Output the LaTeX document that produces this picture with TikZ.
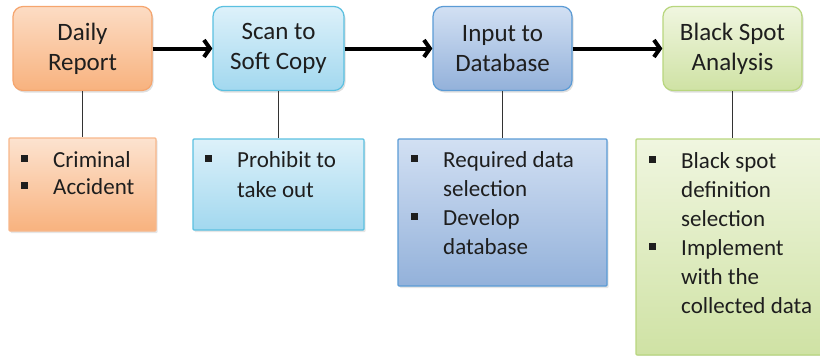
\documentclass[tikz,border=0pt]{standalone}
\usepackage{fontspec}
\setmainfont{Carlito}
\usetikzlibrary{arrows.meta,shadows}
\definecolor{txt}{HTML}{1E1E1E}
\definecolor{orT}{HTML}{FCDCC4}\definecolor{orB}{HTML}{F8B27E}\definecolor{orD}{HTML}{F5A56E}
\definecolor{cyT}{HTML}{DDF1FA}\definecolor{cyB}{HTML}{A2D8EF}\definecolor{cyD}{HTML}{5BC0E0}
\definecolor{blT}{HTML}{D2E0F3}\definecolor{blB}{HTML}{93B1DA}\definecolor{blD}{HTML}{5B9BD5}
\definecolor{grT}{HTML}{F0F6E0}\definecolor{grB}{HTML}{CFE2A4}\definecolor{grD}{HTML}{B8D67E}
\newcommand\blt{\llap{\raisebox{5pt}{\rule{7pt}{7pt}}\hspace{25pt}}}
\begin{document}
\begin{tikzpicture}[x=1pt,y=-1pt,
  topbox/.style={rounded corners=10pt, line width=1.2pt, align=center, inner sep=0pt,
    minimum width=139pt, minimum height=84pt, text=txt, font=\fontsize{25}{30}\selectfont,
    drop shadow={opacity=0.25, shadow xshift=1.5pt, shadow yshift=-2pt}},
  botbox/.style={rounded corners=1pt, line width=1.2pt, inner sep=0pt,
    drop shadow={opacity=0.2, shadow xshift=1.5pt, shadow yshift=-2pt}},
  itemtext/.style={anchor=base west, align=left, inner sep=0pt, text=txt,
    font=\fontsize{23}{29}\selectfont},
  flow/.style={line width=4pt, -{Straight Barb[length=6pt,width=17pt]}},
  conn/.style={line width=1.3pt, draw=black!80}
]
\useasboundingbox (0,0) rectangle (820,356);
\clip (0,0) rectangle (820,356);
% top boxes
\node[topbox, draw=orD, top color=orT, bottom color=orB] (a) at (82.5,48.5) {Daily\\Report};
\node[topbox, minimum width=131pt, draw=cyD, top color=cyT, bottom color=cyB] (b) at (278.5,48.5) {Scan to\\Soft Copy};
\node[topbox, draw=blD, top color=blT, bottom color=blB] (c) at (502.5,48.5) {Input to\\Database};
\node[topbox, draw=grD, top color=grT, bottom color=grB] (d) at (732.5,48.5) {Black Spot\\Analysis};
% bottom boxes
\node[botbox, minimum width=147pt, minimum height=93pt, draw=orD!80, top color=orT!80!white, bottom color=orB] (a2) at (82.5,184.5) {};
\node[botbox, minimum width=171pt, minimum height=91pt, draw=cyD, top color=cyT, bottom color=cyB] (b2) at (278.5,184.5) {};
\node[botbox, minimum width=209pt, minimum height=147pt, draw=blD, top color=blT, bottom color=blB] (c2) at (502.5,212.5) {};
\node[botbox, minimum width=193pt, minimum height=216pt, draw=grD, top color=grT, bottom color=grB] (d2) at (732.5,247) {};
% arrows
\draw[flow] (a.east) -- (b.west);
\draw[flow] (b.east) -- (c.west);
\draw[flow] (c.east) -- (d.west);
% connectors
\draw[conn] (a.south) -- (a2.north);
\draw[conn] (b.south) -- (b2.north);
\draw[conn] (c.south) -- (c2.north);
\draw[conn] (d.south) -- (d2.north);
% item texts (anchor = baseline of the last line)
\node[itemtext, font=\fontsize{23}{27}\selectfont] (ta) at (53,194) {\blt Criminal\\\blt Accident};
\node[itemtext, font=\fontsize{23}{30}\selectfont] (tb) at (237,197) {\blt Prohibit to\\take out};
\node[itemtext] (tc) at (443,254) {\blt Required data\\selection\\\blt Develop\\database};
\node[itemtext] (td) at (681,313) {\blt Black spot\\definition\\selection\\\blt Implement\\with the\\collected data};
\end{tikzpicture}
\end{document}
